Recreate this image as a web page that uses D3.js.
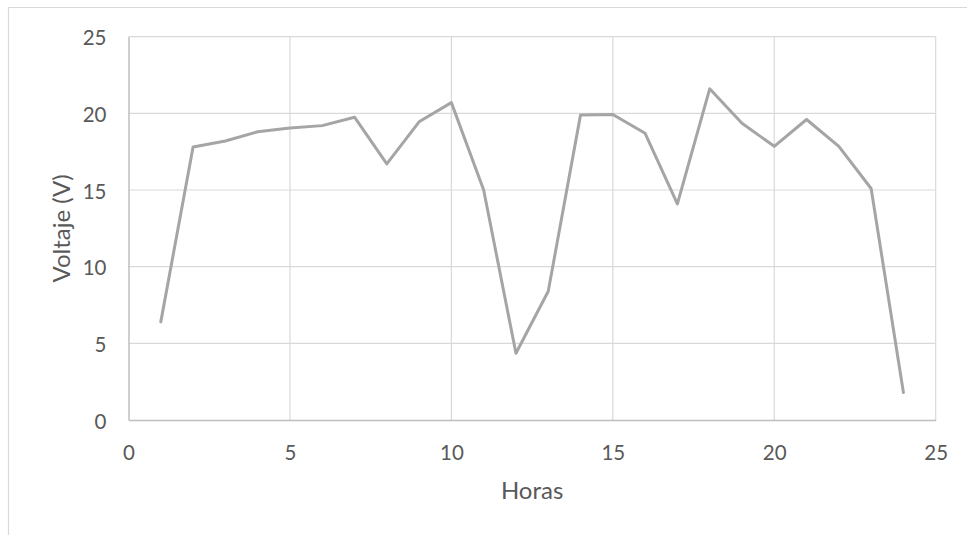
<!DOCTYPE html>
<html>
<head>
<meta charset="utf-8">
<script src="https://cdn.jsdelivr.net/npm/d3@7"></script>
<style>
  html, body { margin: 0; padding: 0; background: #fff; }
  svg { display: block; }
  text { font-family: Lato, "Open Sans", sans-serif; fill: #595959; }
</style>
</head>
<body>
<svg id="chart" width="967" height="535"></svg>
<script>
// Hourly voltage readings
const horas = [1, 2, 3, 4, 5, 6, 7, 8, 9, 10, 11, 12, 13, 14, 15, 16, 17, 18, 19, 20, 21, 22, 23, 24];
const voltaje = [6.4, 17.8, 18.2, 18.8, 19.05, 19.2, 19.75, 16.7, 19.45, 20.7, 15.0, 4.35, 8.4, 19.9, 19.93, 18.7, 14.1, 21.6, 19.35, 17.85, 19.6, 17.85, 15.1, 1.8];
const xTicks = [0, 5, 10, 15, 20, 25];
const yTicks = [0, 5, 10, 15, 20, 25];
const xTitle = "Horas";
const yTitle = "Voltaje (V)";

const svg = d3.select("#chart");
const plot = { left: 128.5, right: 935.7, top: 36.7, bottom: 420 };

const x = d3.scaleLinear().domain([0, 25]).range([plot.left, plot.right]);
const y = d3.scaleLinear().domain([0, 25]).range([plot.bottom, plot.top]);

// Chart area border (extends past the visible frame)
svg.append("path")
  .attr("d", "M8.5,540 L8.5,7.5 L980,7.5")
  .attr("fill", "none")
  .attr("stroke", "#d9d9d9")
  .attr("stroke-width", 1.2);

// Gridlines
const grid = svg.append("g");
grid.selectAll("line.h").data(yTicks.filter(d => d > 0)).join("line")
  .attr("x1", plot.left).attr("x2", plot.right)
  .attr("y1", d => y(d)).attr("y2", d => y(d))
  .attr("stroke", "#d9d9d9").attr("stroke-width", 1.2);
grid.selectAll("line.v").data(xTicks.filter(d => d > 0)).join("line")
  .attr("y1", plot.top).attr("y2", plot.bottom)
  .attr("x1", d => x(d)).attr("x2", d => x(d))
  .attr("stroke", "#d9d9d9").attr("stroke-width", 1.2);

// Axes
const xAxis = svg.append("g")
  .attr("transform", `translate(0,${plot.bottom})`)
  .call(d3.axisBottom(x).tickValues(xTicks).tickSize(0).tickFormat(d3.format("d")));
xAxis.selectAll("text").attr("y", 32).attr("dy", null).attr("dominant-baseline", "central");

const yAxis = svg.append("g")
  .attr("transform", `translate(${plot.left},0)`)
  .call(d3.axisLeft(y).tickValues(yTicks).tickSize(0).tickPadding(22).tickFormat(d3.format("d")));
yAxis.selectAll("text").attr("dy", null).attr("dominant-baseline", "central");

[xAxis, yAxis].forEach(g => {
  g.select(".domain").attr("stroke", "#bfbfbf").attr("stroke-width", 1.5);
  g.selectAll("text").style("font-size", "20.5px").attr("fill", "#595959");
});

// Series line
const line = d3.line().x((d, i) => x(horas[i])).y(d => y(d));
svg.append("path")
  .datum(voltaje)
  .attr("d", line)
  .attr("fill", "none")
  .attr("stroke", "#a5a5a5")
  .attr("stroke-width", 3)
  .attr("stroke-linejoin", "round")
  .attr("stroke-linecap", "round");

// Axis titles
svg.append("text")
  .attr("x", (plot.left + plot.right) / 2)
  .attr("y", 489)
  .attr("text-anchor", "middle")
  .attr("dominant-baseline", "central")
  .style("font-size", "24px")
  .text(xTitle);

svg.append("text")
  .attr("transform", `translate(60,${(plot.top + plot.bottom) / 2}) rotate(-90)`)
  .attr("text-anchor", "middle")
  .attr("dominant-baseline", "central")
  .style("font-size", "24px")
  .text(yTitle);
</script>
</body>
</html>
